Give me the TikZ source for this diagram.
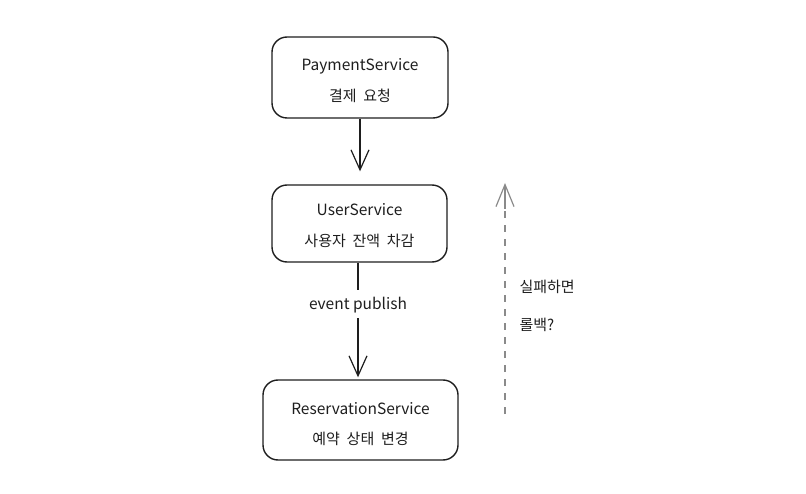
\documentclass[tikz,border=0pt]{standalone}
\usepackage{fontspec}
\setmainfont{Noto Sans CJK KR}
\newfontfamily\hanfont[WordSpace=2]{Noto Sans CJK KR}
\usepackage{xcolor}
\usetikzlibrary{positioning, arrows.meta}

\definecolor{ink}{HTML}{1E1E1E}
\definecolor{dashgray}{HTML}{8A8A8A}

\tikzset{
  svcbox/.style={draw=ink, line width=1.4pt, rounded corners=15pt, fill=white},
  svcname/.style={text=ink, font=\fontsize{15.5}{18}\selectfont},
  svcjob/.style={text=ink, font=\hanfont\fontsize{15}{18}\selectfont},
  flow/.style={draw=ink, line width=1.2pt, -{Straight Barb[length=20pt, width=18pt, line width=1.2pt]}},
  rollback/.style={draw=dashgray, line width=1.2pt, dash pattern=on 7pt off 7pt},
  rbtip/.style={draw=dashgray, line width=1.2pt, -{Straight Barb[length=22pt, width=18pt, line width=1.2pt]}},
  note/.style={text=ink, font=\hanfont\fontsize{15}{18}\selectfont, anchor=west}
}

\begin{document}
\begin{tikzpicture}[x=1pt, y=-1pt]
  \useasboundingbox (0,0) rectangle (806,494);

  % Services
  \node[svcbox, minimum width=176pt, minimum height=81pt] (pay) at (360,77.5) {};
  \node[svcname] (payname) at (360,66) {PaymentService};
  \node[svcjob] (payjob) at (360,96) {결제 요청};

  \node[svcbox, minimum width=175pt, minimum height=77pt] (user) at (359.5,223.5) {};
  \node[svcname] (username) at (359.5,210) {UserService};
  \node[svcjob] (userjob) at (359.5,241) {사용자 잔액 차감};

  \node[svcbox, minimum width=195pt, minimum height=80pt] (resv) at (360.5,420) {};
  \node[svcname] (resvname) at (360.5,409) {ReservationService};
  \node[svcjob] (resvjob) at (360.5,439) {예약 상태 변경};

  % Calls
  \draw[flow] (pay.south) -- ([yshift=13pt]pay.south |- user.north);

  \node[svcname] (pub) at (358,305) {event publish};
  \draw[draw=ink, line width=1.2pt] (user.south -| pub) -- ([yshift=4pt]pub.north);
  \draw[flow] ([yshift=-2pt]pub.south) -- ([yshift=2pt]resv.north -| pub);

  % Rollback
  \coordinate (rbtail) at (505,414);
  \coordinate (rbhead) at (505,183);
  \draw[rollback] (rbtail) -- ([yshift=-26pt]rbhead);
  \draw[rbtip] ([yshift=-26pt]rbhead) -- (rbhead);
  \node[note] (fail) at (516,287) {실패하면};
  \node[note] (undo) at (516,325) {롤백?};
\end{tikzpicture}
\end{document}
